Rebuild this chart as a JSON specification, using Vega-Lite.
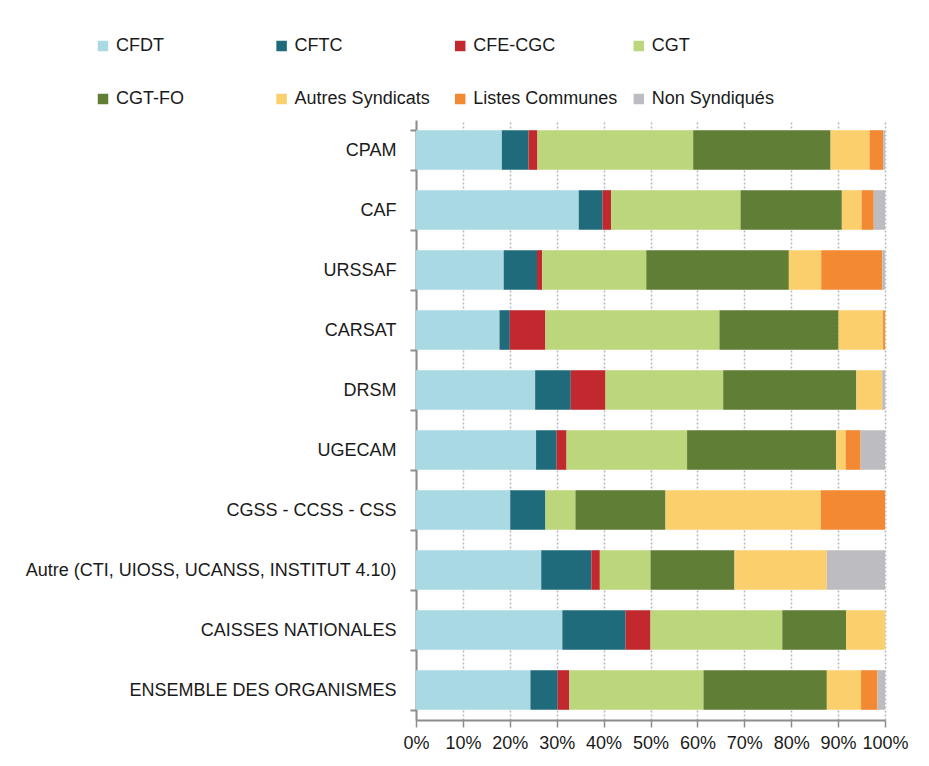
{
  "$schema": "https://vega.github.io/schema/vega-lite/v6.json",
  "width": 469,
  "height": 600,
  "autosize": {"type": "none"},
  "padding": {"left": 416, "top": 120, "right": 44, "bottom": 46},
  "background": "white",
  "config": {"view": {"stroke": null}, "font": "Liberation Sans"},
  "datasets": {
    "syndicats": [
      {"syndicat": "CFDT", "rang": 1},
      {"syndicat": "CFTC", "rang": 2},
      {"syndicat": "CFE-CGC", "rang": 3},
      {"syndicat": "CGT", "rang": 4},
      {"syndicat": "CGT-FO", "rang": 5},
      {"syndicat": "Autres Syndicats", "rang": 6},
      {"syndicat": "Listes Communes", "rang": 7},
      {"syndicat": "Non Syndiqués", "rang": 8}
    ]
  },
  "data": {
    "values": [
      {"organisme": "CPAM", "CFDT": 18.3, "CFTC": 5.7, "CFE-CGC": 1.9, "CGT": 33.2, "CGT-FO": 29.3, "Autres Syndicats": 8.3, "Listes Communes": 2.9, "Non Syndiqués": 0.4},
      {"organisme": "CAF", "CFDT": 34.7, "CFTC": 5.1, "CFE-CGC": 1.8, "CGT": 27.6, "CGT-FO": 21.6, "Autres Syndicats": 4.2, "Listes Communes": 2.6, "Non Syndiqués": 2.4},
      {"organisme": "URSSAF", "CFDT": 18.7, "CFTC": 7.1, "CFE-CGC": 1.1, "CGT": 22.2, "CGT-FO": 30.4, "Autres Syndicats": 6.9, "Listes Communes": 13.0, "Non Syndiqués": 0.6},
      {"organisme": "CARSAT", "CFDT": 17.8, "CFTC": 2.2, "CFE-CGC": 7.6, "CGT": 37.1, "CGT-FO": 25.4, "Autres Syndicats": 9.5, "Listes Communes": 0.4, "Non Syndiqués": 0},
      {"organisme": "DRSM", "CFDT": 25.4, "CFTC": 7.6, "CFE-CGC": 7.4, "CGT": 25.1, "CGT-FO": 28.4, "Autres Syndicats": 5.5, "Listes Communes": 0, "Non Syndiqués": 0.6},
      {"organisme": "UGECAM", "CFDT": 25.6, "CFTC": 4.4, "CFE-CGC": 2.1, "CGT": 25.7, "CGT-FO": 31.8, "Autres Syndicats": 2.0, "Listes Communes": 3.2, "Non Syndiqués": 5.2},
      {"organisme": "CGSS - CCSS - CSS", "CFDT": 20.1, "CFTC": 7.5, "CFE-CGC": 0, "CGT": 6.4, "CGT-FO": 19.2, "Autres Syndicats": 33.1, "Listes Communes": 13.7, "Non Syndiqués": 0},
      {"organisme": "Autre (CTI, UIOSS, UCANSS, INSTITUT 4.10)", "CFDT": 26.7, "CFTC": 10.7, "CFE-CGC": 1.8, "CGT": 10.8, "CGT-FO": 17.9, "Autres Syndicats": 19.7, "Listes Communes": 0, "Non Syndiqués": 12.4},
      {"organisme": "CAISSES NATIONALES", "CFDT": 31.2, "CFTC": 13.5, "CFE-CGC": 5.3, "CGT": 28.1, "CGT-FO": 13.6, "Autres Syndicats": 8.3, "Listes Communes": 0, "Non Syndiqués": 0},
      {"organisme": "ENSEMBLE DES ORGANISMES", "CFDT": 24.4, "CFTC": 5.8, "CFE-CGC": 2.5, "CGT": 28.6, "CGT-FO": 26.3, "Autres Syndicats": 7.3, "Listes Communes": 3.5, "Non Syndiqués": 1.6}
    ]
  },
  "transform": [
    {"fold": ["CFDT", "CFTC", "CFE-CGC", "CGT", "CGT-FO", "Autres Syndicats", "Listes Communes", "Non Syndiqués"], "as": ["syndicat", "part"]},
    {"lookup": "syndicat", "from": {"data": {"name": "syndicats"}, "key": "syndicat", "fields": ["rang"]}}
  ],
  "mark": {"type": "bar"},
  "encoding": {
    "y": {
      "field": "organisme", "type": "nominal", "sort": null, "title": null,
      "scale": {"paddingInner": 0.34, "paddingOuter": 0.17},
      "axis": {"labelFontSize": 18, "labelColor": "#1a1a1a", "labelPadding": 14, "labelLimit": 500,
               "domainColor": "#8c8c8c", "domainWidth": 2, "tickColor": "#8c8c8c", "tickWidth": 2,
               "tickBand": "extent", "tickSize": 6}
    },
    "x": {
      "field": "part", "type": "quantitative", "stack": "normalize", "title": null,
      "scale": {"domain": [0, 1], "nice": false},
      "axis": {"format": ".0%", "values": [0, 0.1, 0.2, 0.3, 0.4, 0.5, 0.6, 0.7, 0.8, 0.9, 1],
               "labelFontSize": 18, "labelColor": "#1a1a1a", "labelPadding": 7,
               "grid": true, "gridDash": [2, 2], "gridColor": "#b8b8b8", "gridWidth": 1.5,
               "domainColor": "#8c8c8c", "domainWidth": 2, "tickColor": "#8c8c8c", "tickWidth": 1.5, "tickSize": 7,
               "labelFlush": false}
    },
    "order": {"field": "rang", "type": "quantitative"},
    "color": {
      "field": "syndicat", "type": "nominal",
      "sort": ["CFDT", "CFTC", "CFE-CGC", "CGT", "CGT-FO", "Autres Syndicats", "Listes Communes", "Non Syndiqués"],
      "scale": {
        "domain": ["CFDT", "CFTC", "CFE-CGC", "CGT", "CGT-FO", "Autres Syndicats", "Listes Communes", "Non Syndiqués"],
        "range": ["#A9D9E3", "#206B7B", "#C1292E", "#BBD67B", "#617E36", "#FBD06C", "#F38A33", "#BDBDC1"]
      },
      "legend": {
        "title": null, "orient": "none", "legendX": -322, "legendY": -83,
        "direction": "horizontal", "columns": 4, "gridAlign": "all",
        "columnPadding": 11.6, "rowPadding": 35, "padding": 0,
        "symbolType": "square", "symbolSize": 110, "symbolStrokeWidth": 0, "symbolOpacity": 1,
        "labelFontSize": 18, "labelColor": "#1a1a1a", "labelOffset": 4, "labelLimit": 300
      }
    }
  }
}
